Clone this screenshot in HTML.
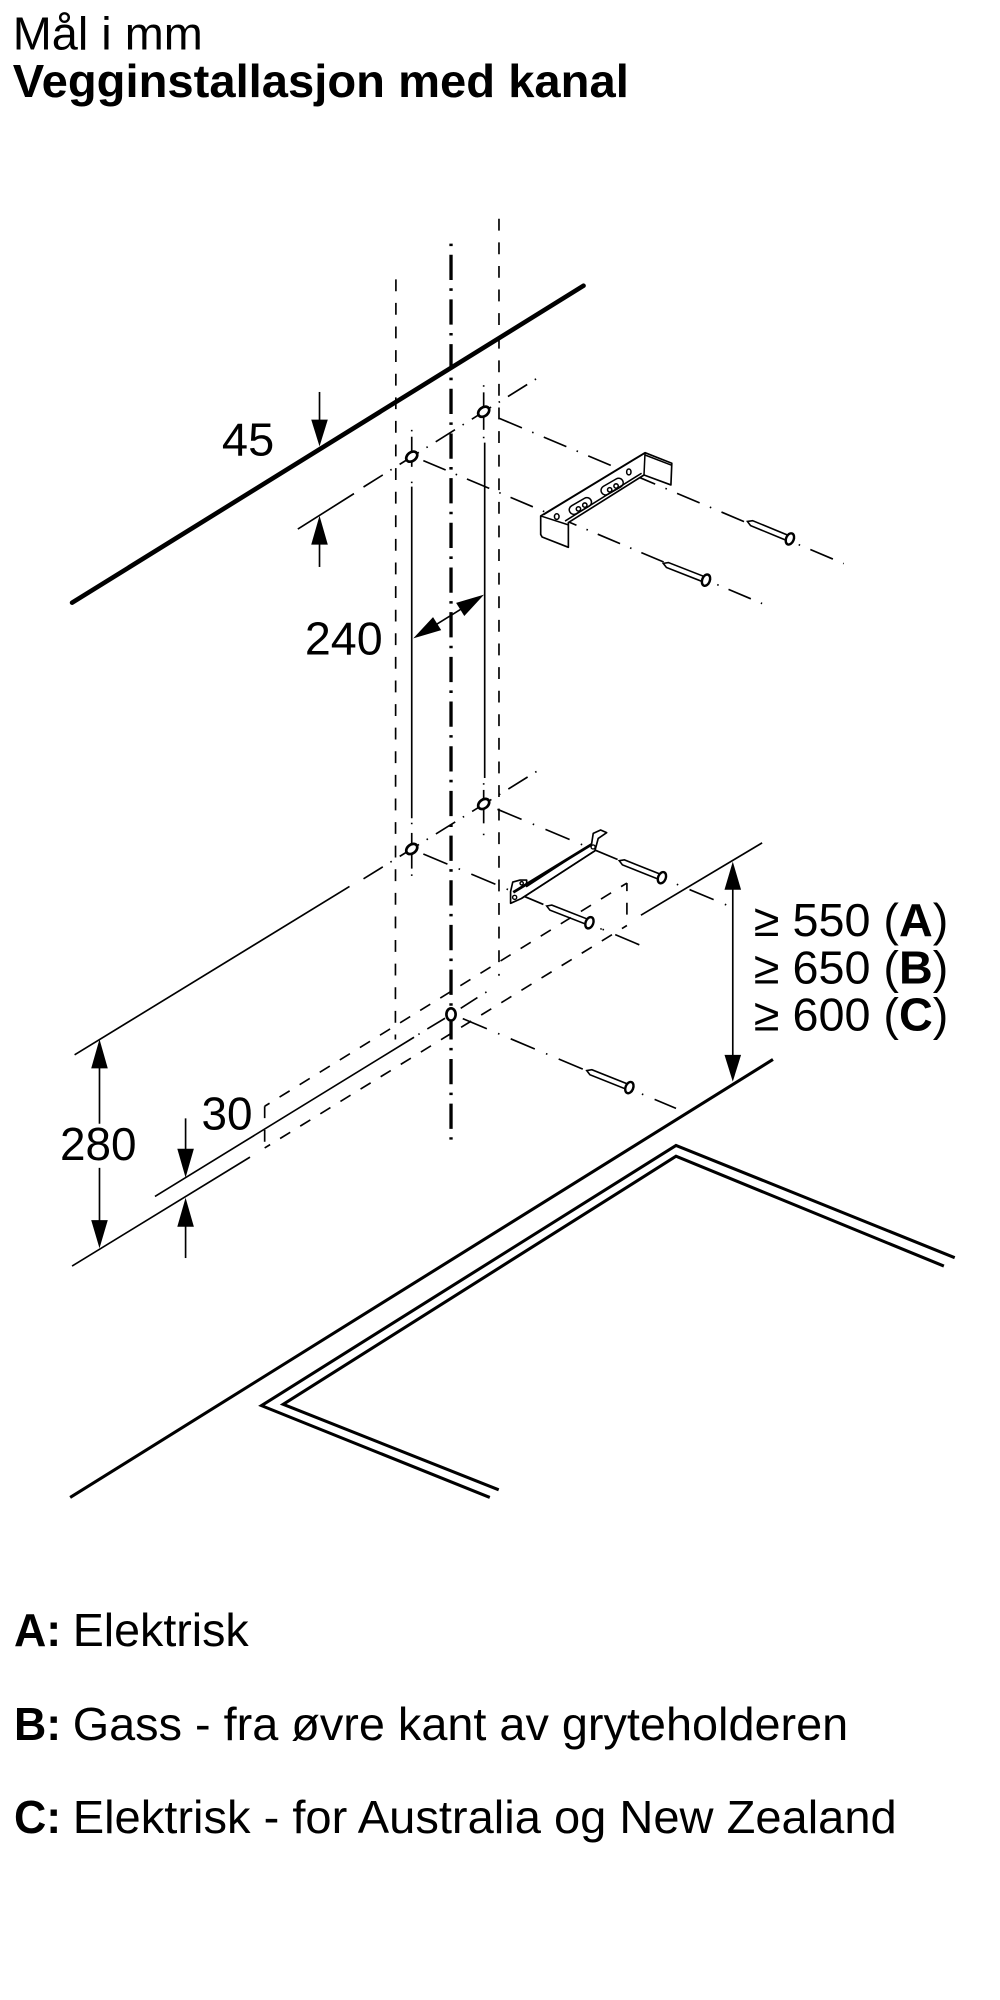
<!DOCTYPE html>
<html>
<head>
<meta charset="utf-8">
<style>
html,body{margin:0;padding:0;background:#fff;width:1000px;height:2000px;overflow:hidden}
svg{display:block}
text{font-family:"Liberation Sans",sans-serif;font-size:36px;fill:#000}
.b{font-weight:700}
.t{stroke:#000;stroke-width:1.3;fill:none}
.dd{stroke:#000;stroke-width:1.3;fill:none;stroke-dasharray:19 8.5 1.2 8.4}
.de{stroke:#000;stroke-width:1.3;fill:none;stroke-dasharray:19.2 8.7 1.2 8.7}
.df{stroke:#000;stroke-width:1.3;fill:none;stroke-dasharray:20.5 9.5 1.2 9.6}
.dg{stroke:#000;stroke-width:1.3;fill:none;stroke-dasharray:17.8 7 1.2 7.4}
.da{stroke:#000;stroke-width:1.3;fill:none;stroke-dasharray:9.3 9.2}
.k{stroke:#000;stroke-width:2.4;fill:none}
.h{stroke:#000;stroke-width:2.1;fill:#fff}
.br{stroke:#000;stroke-width:1.3;fill:#fff;stroke-linejoin:round}
.br2{stroke:#000;stroke-width:1.2;fill:none}
</style>
</head>
<body>
<svg width="1000" height="2000" viewBox="0 0 784 1568" xmlns="http://www.w3.org/2000/svg">
<defs>
<g id="s">
<polygon points="0,0 3.5,-2.1 35,-2.1 35,2.1 3.5,2.1" fill="#fff" stroke="#000" stroke-width="1.25"/>
<ellipse cx="36" cy="0" rx="3" ry="4.6" fill="#fff" stroke="#000" stroke-width="1.9"/>
</g>
</defs>

<text x="10" y="39" textLength="149" lengthAdjust="spacingAndGlyphs">Mål i mm</text>
<text x="10" y="76" class="b" textLength="483" lengthAdjust="spacingAndGlyphs">Vegginstallasjon med kanal</text>

<!-- vertical dashed -->
<line class="da" x1="310.4" y1="219" x2="310" y2="815"/>
<line class="da" x1="391.2" y1="171.5" x2="391.2" y2="765"/>

<!-- center line -->
<line x1="353.6" y1="191" x2="353.6" y2="893.5" stroke="#000" stroke-width="2.6" stroke-dasharray="2 6.7 19.8 6.53"/>

<!-- thick line -->
<line x1="56.5" y1="472.5" x2="457.5" y2="224" stroke="#000" stroke-width="3.6" stroke-linecap="round"/>

<!-- vertical solid / short centre pieces -->
<g stroke="#000" stroke-width="1.3" fill="none">
<line x1="322.8" y1="342.4" x2="322.8" y2="366"/>
<line x1="322.8" y1="337" x2="322.8" y2="338.2"/>
<line x1="322.8" y1="377.6" x2="322.8" y2="378.8"/>
<line x1="322.8" y1="381.5" x2="322.8" y2="641.5"/>
<line x1="322.8" y1="645" x2="322.8" y2="646.2"/>
<line x1="322.8" y1="653" x2="322.8" y2="681"/>
<line x1="322.8" y1="685.5" x2="322.8" y2="686.7"/>
<line x1="379.2" y1="302" x2="379.2" y2="303.2"/>
<line x1="379.2" y1="307.6" x2="379.2" y2="337"/>
<line x1="379.2" y1="342.4" x2="379.2" y2="343.6"/>
<line x1="380" y1="347" x2="380" y2="610"/>
<line x1="379.2" y1="614" x2="379.2" y2="615.2"/>
<line x1="379.2" y1="619.3" x2="379.2" y2="645.5"/>
<line x1="379.2" y1="653.6" x2="379.2" y2="654.8"/>
</g>

<!-- upper diagonal -->
<line class="t" x1="233.5" y1="414.8" x2="277.5" y2="387"/>
<line class="dg" x1="285" y1="381.8" x2="422" y2="296"/>
<!-- middle diagonal -->
<line class="t" x1="58.5" y1="827" x2="274" y2="695"/>
<line class="dg" x1="285" y1="689" x2="422" y2="604"/>

<!-- right dash-dot lines -->
<line class="de" x1="391.5" y1="328" x2="661.5" y2="441.9"/>
<line class="dd" x1="331.9" y1="361.1" x2="597.5" y2="473.2"/>
<line class="df" x1="390" y1="634.5" x2="569.5" y2="709.5"/>
<line class="df" x1="331.9" y1="669.5" x2="509.5" y2="744.2"/>
<line class="df" x1="362.8" y1="798.6" x2="530" y2="869"/>

<!-- bracket 1 -->
<polygon class="br" points="423.9,404.5 505.7,354.9 526.7,363.2 526,380.2 504.9,372.4 445.6,409.7 445.6,429.1 425,421 423.9,419"/>
<g class="br2">
<line x1="423.9" y1="404.5" x2="445.6" y2="411.5"/>
<line x1="505.7" y1="354.9" x2="504.9" y2="372.4"/>
<line x1="505.7" y1="356.7" x2="526.7" y2="364.8"/>
<line x1="503" y1="371" x2="443" y2="408.5"/>
<line x1="426" y1="403.6" x2="505" y2="355.6"/>
<ellipse cx="436.5" cy="405" rx="1.8" ry="2.2"/>
<ellipse cx="493" cy="370" rx="1.7" ry="2.3"/>
<rect x="-9.5" y="-3.6" width="19" height="7.2" rx="3.6" transform="translate(455,396.7) rotate(-30)"/>
<rect x="-9.5" y="-3.6" width="19" height="7.2" rx="3.6" transform="translate(479.9,381.5) rotate(-30)"/>
<circle cx="453.5" cy="399" r="1.7"/><circle cx="458.5" cy="396" r="1.7"/>
<circle cx="478" cy="384" r="1.7"/><circle cx="483" cy="381" r="1.7"/>
</g>

<!-- bracket 2 -->
<polygon class="br" points="400.3,699 402,691.5 407.7,690 412.9,690 412.9,695 463.8,661.7 465.1,653.4 470.9,650.7 475.6,652.8 469,657.3 466.4,667 409,704.3 400.3,708.2"/>
<g stroke="#000" fill="none">
<line x1="402.4" y1="699.6" x2="463.8" y2="662" stroke-width="2.2"/>
<line x1="409" y1="704.3" x2="466.4" y2="667" stroke-width="1.3"/>
<circle cx="403.5" cy="703.5" r="1.6" stroke-width="1.1"/>
<circle cx="465" cy="664" r="1.6" stroke-width="1.1"/>
<circle cx="409" cy="692.5" r="1.3" stroke-width="1.1"/>
</g>

<!-- screws -->
<use href="#s" transform="translate(586,408.8) rotate(22.4)"/>
<use href="#s" transform="translate(520,441.7) rotate(21.4)"/>
<use href="#s" transform="translate(485.5,674.8) rotate(21.7)"/>
<use href="#s" transform="translate(428.6,710.3) rotate(21.4)"/>
<use href="#s" transform="translate(460,839.3) rotate(21.8)"/>

<!-- duct -->
<line class="da" x1="207.5" y1="867.3" x2="491.5" y2="692.3" stroke-dashoffset="4.8"/>
<line class="da" x1="207.5" y1="900" x2="491.5" y2="725.6" stroke-dashoffset="4.3"/>
<line class="da" x1="491.5" y1="692.3" x2="491.5" y2="725.6" stroke-dashoffset="3"/>
<line class="da" x1="207.5" y1="867.3" x2="207.5" y2="900"/>

<!-- centre lines -->
<line class="t" x1="121.5" y1="938" x2="324.6" y2="813.2"/>
<line class="t" x1="328" y1="811" x2="329" y2="810.4"/>
<line class="t" x1="335" y1="806.7" x2="348.9" y2="798.3"/>
<line class="t" x1="361.2" y1="790.5" x2="374.3" y2="782.1"/>
<line class="t" x1="380.4" y1="778.3" x2="381.4" y2="777.7"/>
<line class="t" x1="470.7" y1="728.6" x2="471.7" y2="728"/>
<line class="t" x1="502.5" y1="717.5" x2="597.5" y2="660.8"/>
<line class="t" x1="56.5" y1="992.6" x2="196" y2="907.2"/>

<!-- holes -->
<ellipse class="h" cx="322.8" cy="358" rx="4.8" ry="3.4" transform="rotate(-38 322.8 358)"/>
<ellipse class="h" cx="379.2" cy="322.8" rx="4.8" ry="3.4" transform="rotate(-38 379.2 322.8)"/>
<ellipse class="h" cx="322.8" cy="665.6" rx="4.8" ry="3.4" transform="rotate(-38 322.8 665.6)"/>
<ellipse class="h" cx="379.2" cy="630.3" rx="4.8" ry="3.4" transform="rotate(-38 379.2 630.3)"/>
<ellipse class="h" cx="353.6" cy="795.3" rx="3.6" ry="4.8"/>

<!-- dimension arrows -->
<g stroke="#000" stroke-width="1.3" fill="none">
<line x1="250.5" y1="307.3" x2="250.5" y2="335"/>
<line x1="250.5" y1="422" x2="250.5" y2="444.5"/>
<line x1="335" y1="494" x2="368" y2="473.5"/>
<line x1="78" y1="830" x2="78" y2="881"/>
<line x1="78" y1="915.6" x2="78" y2="960"/>
<line x1="145.5" y1="876.8" x2="145.5" y2="905"/>
<line x1="145.5" y1="957" x2="145.5" y2="986.3"/>
<line x1="574.5" y1="690" x2="574.5" y2="832"/>
</g>
<g fill="#000">
<polygon points="250.5,350 244,329 257,329"/>
<polygon points="250.5,404.3 244,427 257,427"/>
<polygon points="324,500.5 345.9,494 339.5,483.8"/>
<polygon points="379.5,466.2 364,482.9 357.6,472.7"/>
<polygon points="78,814.8 71.5,837.6 84.5,837.6"/>
<polygon points="78,978.6 71.5,956.6 84.5,956.6"/>
<polygon points="145.5,923.3 139,900.6 152,900.6"/>
<polygon points="145.5,939 139,961.8 152,961.8"/>
<polygon points="574.5,675.5 568,697.6 581,697.6"/>
<polygon points="574.5,848 568,827 581,827"/>
</g>

<!-- hob -->
<line class="k" x1="55" y1="1174" x2="606" y2="830.6"/>
<polyline class="k" points="748.5,986 530,898 205,1102 384,1174"/>
<polyline class="k" points="740,992.6 530,906.5 222,1101 391,1168"/>

<!-- dim text -->
<text x="174" y="357" textLength="41" lengthAdjust="spacingAndGlyphs">45</text>
<text x="239" y="513" textLength="61" lengthAdjust="spacingAndGlyphs">240</text>
<text x="158" y="885.5" textLength="40" lengthAdjust="spacingAndGlyphs">30</text>
<text x="47" y="909.3" textLength="60" lengthAdjust="spacingAndGlyphs">280</text>
<text x="591" y="734" textLength="152.5" lengthAdjust="spacingAndGlyphs">≥ 550 (<tspan class="b">A</tspan>)</text>
<text x="591" y="771" textLength="152.5" lengthAdjust="spacingAndGlyphs">≥ 650 (<tspan class="b">B</tspan>)</text>
<text x="591" y="808" textLength="152.5" lengthAdjust="spacingAndGlyphs">≥ 600 (<tspan class="b">C</tspan>)</text>

<!-- legend -->
<text x="11" y="1290.5" class="b" textLength="37" lengthAdjust="spacingAndGlyphs">A:</text>
<text x="57" y="1290.5" textLength="138" lengthAdjust="spacingAndGlyphs">Elektrisk</text>
<text x="11" y="1364" class="b" textLength="37" lengthAdjust="spacingAndGlyphs">B:</text>
<text x="57" y="1364" textLength="608" lengthAdjust="spacingAndGlyphs">Gass - fra øvre kant av gryteholderen</text>
<text x="11" y="1437" class="b" textLength="37" lengthAdjust="spacingAndGlyphs">C:</text>
<text x="57" y="1437" textLength="646" lengthAdjust="spacingAndGlyphs">Elektrisk - for Australia og New Zealand</text>
</svg>
</body>
</html>
